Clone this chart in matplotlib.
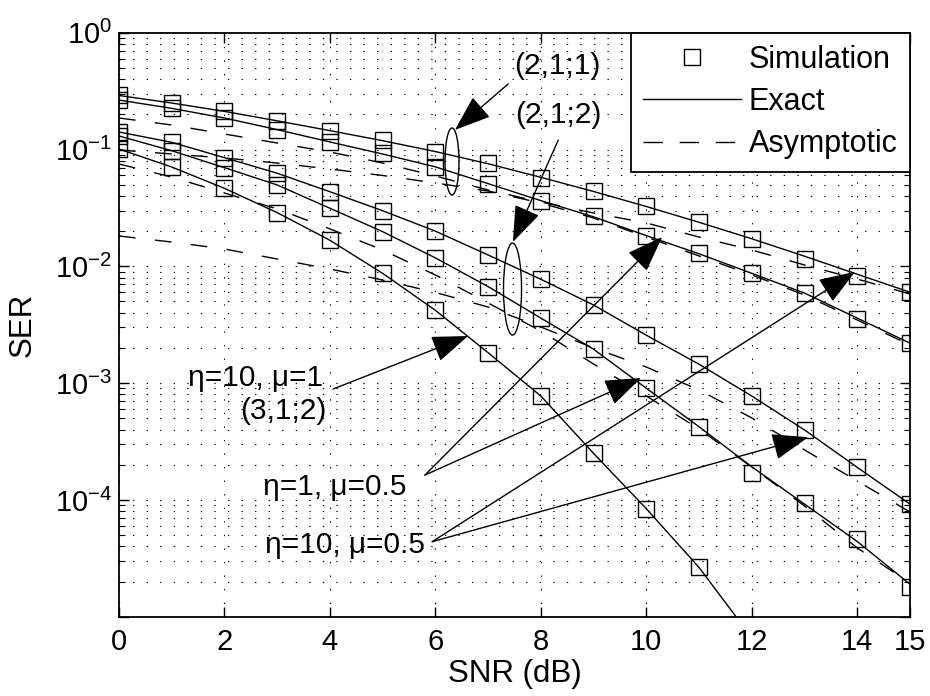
import matplotlib
matplotlib.use('Agg')
import math
import matplotlib.pyplot as plt
from matplotlib.patches import Ellipse
from matplotlib.lines import Line2D
from matplotlib.ticker import FixedLocator, FuncFormatter, LogLocator, NullFormatter

plt.rcParams['font.family'] = ['Liberation Sans', 'DejaVu Sans']
plt.rcParams['mathtext.fontset'] = 'custom'
plt.rcParams['mathtext.rm'] = 'Liberation Sans'
plt.rcParams['mathtext.it'] = 'Liberation Sans'

snr = list(range(16))
snr_e = list(range(13))

# Simulation (markers)
sim_a = [0.2929, 0.2486, 0.2136, 0.1754, 0.1449, 0.1206, 0.0961, 0.0762, 0.0567, 0.0441,
         0.0328, 0.02394, 0.01703, 0.01148, 0.00831, 0.00606]
sim_b = [0.2653, 0.2253, 0.1850, 0.1469, 0.1166, 0.0928, 0.0712, 0.0504, 0.0364, 0.0270,
         0.01817, 0.01292, 0.00871, 0.00594, 0.00354, 0.00222]
sim_c = [0.1412, 0.1152, 0.0851, 0.0626, 0.0435, 0.0299, 0.02006, 0.0125, 0.00774, 0.00466,
         0.00257, 0.001449, 0.000775, 0.000397, 0.000190, 9.23e-5]
sim_d = [0.1305, 0.0976, 0.0699, 0.0497, 0.03139, 0.01978, 0.01178, 0.00669, 0.00359, 0.001948,
         0.000903, 0.000423, 0.000171, 9.35e-5, 4.60e-5, 1.81e-5]
sim_e = [0.1010, 0.0708, 0.0465, 0.02877, 0.01669, 0.00871, 0.00420, 0.00182, 0.000775, 0.000250,
         8.36e-5, 2.64e-5]

# Exact (solid lines)
ex_a = [0.290, 0.250, 0.212, 0.176, 0.145, 0.119, 0.096, 0.0755, 0.0578, 0.0437,
        0.0325, 0.0238, 0.0172, 0.0122, 0.00855, 0.0060]
ex_b = [0.265, 0.225, 0.186, 0.148, 0.116, 0.0915, 0.071, 0.051, 0.0365, 0.0265,
        0.0183, 0.0128, 0.0087, 0.0059, 0.0036, 0.0022]
ex_c = [0.1412, 0.1152, 0.0851, 0.0626, 0.0435, 0.0299, 0.0200, 0.0125, 0.00774, 0.00466,
        0.00257, 0.00145, 0.000775, 0.000397, 0.000190, 9.2e-5]
ex_d = [0.1305, 0.0976, 0.0699, 0.0497, 0.0314, 0.0198, 0.0118, 0.0067, 0.0036, 0.00195,
        0.000903, 0.000423, 0.000192, 9.2e-5, 4.4e-5, 1.9e-5]
ex_e = [0.101, 0.0708, 0.0465, 0.0288, 0.0167, 0.0087, 0.0042, 0.00182, 0.000775, 0.00025,
        8.4e-5, 2.64e-5, 6.6e-6]

# Asymptotic (dashed lines)
as_a = [0.1861, 0.1621, 0.1357, 0.1136, 0.0952, 0.0766, 0.0593, 0.0450, 0.0355, 0.0286,
        0.0235, 0.0178, 0.01379, 0.01026, 0.00778, 0.00579]
as_b = [0.0990, 0.0915, 0.0846, 0.0766, 0.0681, 0.0599, 0.0517, 0.0441, 0.0348, 0.0259,
        0.0178, 0.01226, 0.00842, 0.00568, 0.00347, 0.00212]
as_c = [0.01817, 0.01614, 0.01406, 0.01155, 0.00948, 0.00763, 0.00597, 0.00448, 0.00302, 0.00200,
        0.001373, 0.000873, 0.000503, 0.000268, 0.000145, 7.88e-5]
as_d = [0.0751, 0.0581, 0.0424, 0.0310, 0.0209, 0.01379, 0.00842, 0.00485, 0.00279, 0.001457,
        0.000775, 0.000405, 0.000191, 8.87e-5, 3.88e-5, 1.94e-5]

xticks = [0, 2, 4, 6, 8, 10, 12, 14, 15]
yticks = [1e-5, 1e-4, 1e-3, 1e-2, 1e-1, 1e0]
legend_labels = ['Simulation', 'Exact', 'Asymptotic']

fig = plt.figure(figsize=(9.3, 6.96), dpi=100)
ax = fig.add_axes([119 / 930, 1 - 616.7 / 696, (910 - 119) / 930, (616.7 - 32.7) / 696])

dash = (0, (12, 14))
lw = 1.0
for y in [ex_a, ex_b, ex_c, ex_d]:
    ax.plot(snr, y, color='black', lw=lw)
ax.plot(snr_e, ex_e, color='black', lw=lw)
for y in [as_a, as_b, as_c, as_d]:
    ax.plot(snr, y, color='black', lw=lw, linestyle=dash)
mk = dict(marker='s', markersize=11, markerfacecolor='none', markeredgecolor='black',
          markeredgewidth=1.0, linestyle='none')
for y in [sim_a, sim_b, sim_c, sim_d]:
    ax.plot(snr, y, **mk)
ax.plot(snr[:len(sim_e)], sim_e, **mk)

ax.set_yscale('log')
ax.set_xlim(0, 15)
ax.set_ylim(1e-5, 1)
ax.xaxis.set_major_locator(FixedLocator(xticks))
ax.yaxis.set_major_locator(FixedLocator(yticks))
ax.yaxis.set_minor_locator(LogLocator(base=10, subs=range(2, 10)))
ax.yaxis.set_minor_formatter(NullFormatter())


def yfmt(v, pos):
    e = int(round(math.log10(v)))
    if e <= -5:
        return ''
    return r'$\mathregular{10^{%d}}$' % e


ax.yaxis.set_major_formatter(FuncFormatter(yfmt))
ax.tick_params(which='both', direction='in', top=True, right=True, labelsize=21)
ax.tick_params(which='major', length=7, width=1.0)
ax.tick_params(which='minor', length=4, width=0.8)
ax.tick_params(axis='x', pad=8)
ax.tick_params(axis='y', pad=5)
for s in ax.spines.values():
    s.set_linewidth(1.3)

gstyle = dict(color='black', linestyle=(0, (1.2, 11)), linewidth=0.8)
ax.grid(True, which='major', axis='x', **gstyle)
ax.grid(True, which='both', axis='y', **gstyle)

ax.set_xlabel('SNR (dB)', fontsize=22.5, labelpad=2)
ax.set_ylabel('SER', fontsize=22.5, labelpad=12)

# legend
h = [Line2D([], [], **mk),
     Line2D([], [], color='black', lw=lw),
     Line2D([], [], color='black', lw=lw, linestyle=(0, (14, 12)))]
leg = ax.legend(h, legend_labels, loc='upper right',
                fontsize=22, frameon=True, fancybox=False, borderaxespad=0,
                handlelength=3.2, handletextpad=0.25, labelspacing=0.4,
                borderpad=0.4)
leg.get_frame().set_edgecolor('black')
leg.get_frame().set_linewidth(1.3)
leg.get_frame().set_alpha(1)

# annotations
fs = 21.5
aprops = dict(arrowstyle='-|>,head_length=1.15,head_width=0.42', color='black', lw=1.0,
              mutation_scale=20, shrinkA=0, shrinkB=0)

ax.text(8.31, 0.519, '(2,1;1)', fontsize=fs, ha='center', va='center')
ax.annotate('', xy=(6.37, 0.147), xytext=(7.38, 0.364), arrowprops=aprops)
ax.add_patch(Ellipse((0.421, 0.7795), 0.0177, 0.1147, transform=ax.transAxes,
                     fill=False, edgecolor='black', lw=1.0))

ax.text(8.34, 0.197, '(2,1;2)', fontsize=fs, ha='center', va='center')
ax.annotate('', xy=(7.47, 0.01614), xytext=(8.33, 0.1206), arrowprops=aprops)
ax.add_patch(Ellipse((0.4975, 0.561), 0.0228, 0.1575, transform=ax.transAxes,
                     fill=False, edgecolor='black', lw=1.0))

ax.text(3.87, 1.106e-3, 'η=10, μ=1', fontsize=fs, ha='right', va='center')
ax.text(3.94, 5.77e-4, '(3,1;2)', fontsize=fs, ha='right', va='center')
ax.annotate('', xy=(6.62, 2.53e-3), xytext=(4.06, 8.9e-4), arrowprops=aprops)

ax.text(5.46, 1.29e-4, 'η=1, μ=0.5', fontsize=fs, ha='right', va='center')
ax.annotate('', xy=(10.30, 0.01782), xytext=(5.80, 1.63e-4), arrowprops=aprops)
ax.annotate('', xy=(9.90, 1.106e-3), xytext=(5.80, 1.63e-4), arrowprops=aprops)

ax.text(5.80, 4.11e-5, 'η=10, μ=0.5', fontsize=fs, ha='right', va='center')
ax.annotate('', xy=(13.96, 8.99e-3), xytext=(5.94, 4.39e-5), arrowprops=aprops)
ax.annotate('', xy=(13.07, 3.44e-4), xytext=(5.94, 4.39e-5), arrowprops=aprops)

fig.savefig('out.png', dpi=100)
